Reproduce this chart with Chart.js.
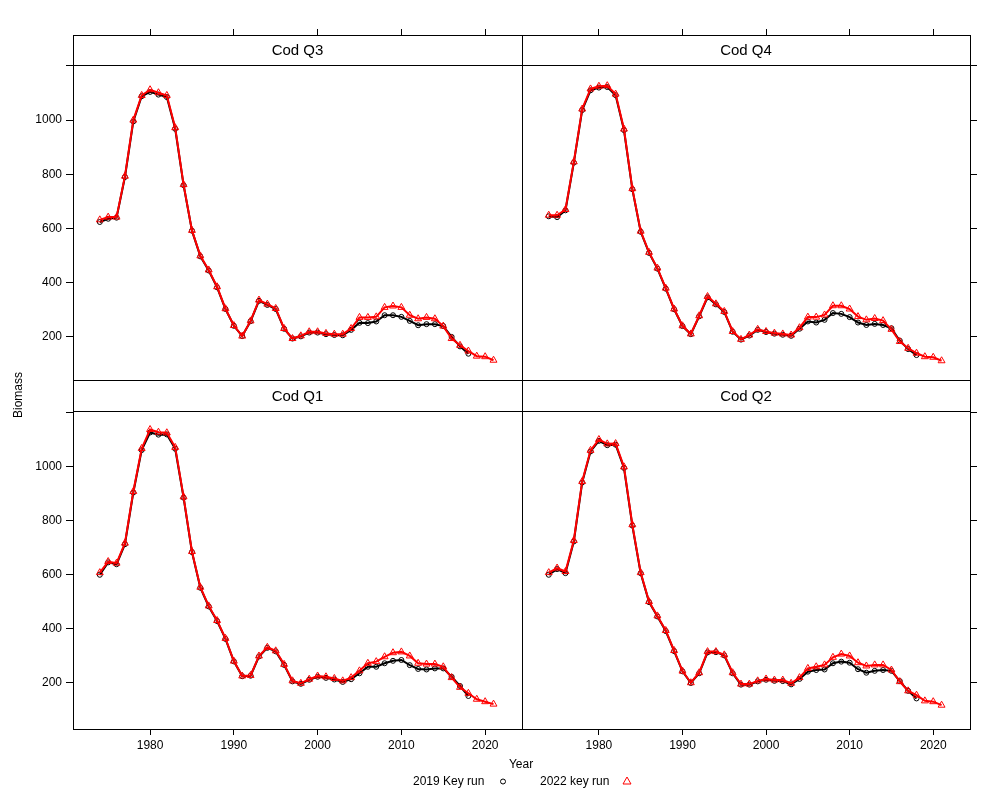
<!DOCTYPE html>
<html>
<head>
<meta charset="utf-8">
<script src="https://cdn.jsdelivr.net/npm/chart.js@4/dist/chart.umd.min.js"></script>
<style>
  body { margin: 0; background: #fff; }
  #wrap { position: relative; width: 1000px; height: 800px; }
  #wrap canvas { position: absolute; left: 0; top: 0; }
</style>
</head>
<body>
<div id="wrap">
  <canvas id="q3" width="1000" height="800"></canvas>
  <canvas id="q4" width="1000" height="800"></canvas>
  <canvas id="q1" width="1000" height="800"></canvas>
  <canvas id="q2" width="1000" height="800"></canvas>
</div>
<script>
// years for each run
const years2022 = [1974, 1975, 1976, 1977, 1978, 1979, 1980, 1981, 1982, 1983,
    1984, 1985, 1986, 1987, 1988, 1989, 1990, 1991, 1992, 1993,
    1994, 1995, 1996, 1997, 1998, 1999, 2000, 2001, 2002, 2003,
    2004, 2005, 2006, 2007, 2008, 2009, 2010, 2011, 2012, 2013,
    2014, 2015, 2016, 2017, 2018, 2019, 2020, 2021];
const years2019 = years2022.slice(0, 45); // 1974 - 2018

// Cod Q3
const q3Run2019 = [624, 636, 640, 790, 995, 1088, 1104, 1094, 1085, 968,
    760, 592, 497, 445, 383, 303, 241, 203, 258, 333,
    318, 303, 230, 194, 202, 216, 216, 210, 207, 206,
    226, 252, 251, 257, 280, 280, 274, 259, 243, 247,
    247, 240, 200, 165, 138];
const q3Run2022 = [632, 642, 642, 793, 1000, 1091, 1112, 1101, 1091, 972,
    762, 593, 499, 447, 385, 304, 242, 203, 259, 336,
    321, 305, 231, 194, 204, 219, 219, 213, 210, 210,
    231, 272, 272, 274, 309, 314, 309, 280, 267, 272,
    267, 240, 194, 169, 148, 129, 127, 114];

// Cod Q4
const q4Run2019 = [645, 642, 667, 843, 1037, 1110, 1120, 1122, 1092, 963,
    745, 588, 510, 452, 378, 302, 240, 210, 276, 346,
    320, 292, 219, 190, 205, 226, 218, 212, 208, 204,
    230, 257, 253, 263, 288, 285, 273, 253, 244, 248,
    244, 232, 186, 155, 133];
const q4Run2022 = [649, 649, 670, 846, 1041, 1115, 1125, 1127, 1096, 967,
    747, 590, 512, 454, 380, 303, 241, 211, 278, 349,
    322, 294, 220, 191, 207, 228, 220, 214, 211, 207,
    234, 273, 273, 281, 315, 315, 303, 275, 263, 268,
    260, 228, 183, 158, 140, 127, 125, 112];

// Cod Q1
const q1Run2019 = [599, 645, 638, 712, 903, 1060, 1125, 1117, 1118, 1065,
    884, 683, 551, 482, 428, 362, 279, 224, 226, 297,
    329, 316, 266, 205, 196, 211, 222, 218, 212, 203,
    213, 235, 259, 259, 272, 281, 284, 265, 251, 249,
    253, 253, 222, 188, 151];
const q1Run2022 = [607, 648, 642, 716, 907, 1066, 1136, 1126, 1124, 1070,
    887, 685, 553, 484, 430, 364, 280, 225, 227, 299,
    331, 318, 268, 207, 198, 213, 225, 222, 216, 207,
    219, 244, 272, 278, 296, 311, 314, 299, 272, 269,
    269, 259, 219, 183, 161, 139, 130, 121];

// Cod Q2
const q2Run2019 = [599, 620, 605, 722, 940, 1055, 1094, 1078, 1080, 994,
    781, 605, 498, 445, 391, 317, 242, 199, 235, 312,
    313, 301, 235, 193, 193, 205, 211, 207, 206, 194,
    214, 241, 247, 249, 272, 278, 274, 250, 237, 244,
    247, 244, 206, 170, 142];
const q2Run2022 = [607, 624, 611, 726, 944, 1059, 1099, 1083, 1084, 998,
    784, 607, 500, 447, 393, 319, 243, 200, 237, 315,
    315, 303, 237, 195, 195, 207, 214, 210, 210, 198,
    219, 253, 259, 266, 294, 306, 299, 274, 262, 266,
    266, 247, 204, 170, 154, 133, 130, 117];

const runLabels = ['2019 Key run', '2022 key run'];
const xTicks = [1980, 1990, 2000, 2010, 2020];
const yTicks = [200, 400, 600, 800, 1000];

const FONT = '"Liberation Sans", Arial, sans-serif';

function toPoints(xs, ys) {
    return ys.map((y, i) => ({ x: xs[i], y: y }));
}

// white strip with the panel name, drawn inside the top of the plot area
const stripPlugin = {
    id: 'strip',
    beforeDatasetsDraw(chart, args, opts) {
        const a = chart.chartArea;
        const ctx = chart.ctx;
        ctx.save();
        ctx.fillStyle = '#fff';
        ctx.fillRect(a.left, a.top, a.right - a.left, opts.height);
        ctx.strokeStyle = '#000';
        ctx.lineWidth = 1;
        ctx.beginPath();
        ctx.moveTo(a.left, a.top + opts.height + 0.5);
        ctx.lineTo(a.right, a.top + opts.height + 0.5);
        ctx.stroke();
        ctx.fillStyle = '#000';
        ctx.font = '15px ' + FONT;
        ctx.textAlign = 'center';
        ctx.textBaseline = 'middle';
        ctx.fillText(opts.text, (a.left + a.right) / 2, a.top + opts.height / 2 + 1);
        ctx.restore();
    },
    afterDraw(chart) {
        const a = chart.chartArea;
        const ctx = chart.ctx;
        ctx.save();
        ctx.strokeStyle = '#000';
        ctx.lineWidth = 1;
        ctx.strokeRect(a.left + 0.5, a.top + 0.5, a.right - a.left, a.bottom - a.top);
        ctx.restore();
    }
};

// axis titles and key, drawn once on the last panel's canvas
const titlesPlugin = {
    id: 'titles',
    afterDraw(chart) {
        const ctx = chart.ctx;
        ctx.save();
        ctx.fillStyle = '#000';
        ctx.font = '12px ' + FONT;
        ctx.textBaseline = 'middle';
        ctx.textAlign = 'center';
        ctx.fillText('Year', 521, 765);
        ctx.save();
        ctx.translate(19, 395);
        ctx.rotate(-Math.PI / 2);
        ctx.fillText('Biomass', 0, 0);
        ctx.restore();

        ctx.textAlign = 'left';
        ctx.fillText(runLabels[0], 413, 782);
        ctx.fillText(runLabels[1], 540, 782);
        ctx.lineWidth = 1;
        ctx.strokeStyle = '#000';
        ctx.beginPath();
        ctx.arc(503, 781.5, 2.5, 0, Math.PI * 2);
        ctx.stroke();
        ctx.strokeStyle = '#ff0000';
        ctx.beginPath();
        ctx.moveTo(627, 777);
        ctx.lineTo(631, 784);
        ctx.lineTo(623, 784);
        ctx.closePath();
        ctx.stroke();
        ctx.restore();
    }
};

function makePanel(id, title, run2019, run2022, pos) {
    const isLeft = pos.col === 0;
    const isTop = pos.row === 0;
    const yMin = isTop ? 41 : 29;
    const yMax = isTop ? 1314 : 1319;
    const plugins = [stripPlugin];
    if (id === 'q2') plugins.push(titlesPlugin);

    new Chart(document.getElementById(id), {
        type: 'line',
        data: {
            datasets: [
                {
                    label: runLabels[1],
                    data: toPoints(years2022, run2022),
                    borderColor: '#ff0000',
                    borderWidth: 2,
                    pointStyle: 'triangle',
                    pointRadius: 4,
                    pointBorderWidth: 1,
                    pointBorderColor: '#ff0000',
                    pointBackgroundColor: 'rgba(0,0,0,0)',
                    tension: 0,
                    order: 0
                },
                {
                    label: runLabels[0],
                    data: toPoints(years2019, run2019),
                    borderColor: '#000000',
                    borderWidth: 2,
                    pointStyle: 'circle',
                    pointRadius: 2.5,
                    pointBorderWidth: 1,
                    pointBorderColor: '#000000',
                    pointBackgroundColor: 'rgba(0,0,0,0)',
                    tension: 0,
                    order: 1
                }
            ]
        },
        options: {
            responsive: false,
            animation: false,
            events: [],
            layout: {
                padding: {
                    left: isLeft ? 0 : 522,
                    right: isLeft ? 478 : 23,
                    top: isTop ? 29 : 380,
                    bottom: isTop ? 420 : 41
                }
            },
            plugins: {
                legend: { display: false },
                tooltip: { enabled: false },
                strip: { text: title, height: isTop ? 30 : 31 }
            },
            scales: {
                x: {
                    type: 'linear',
                    position: isTop ? 'top' : 'bottom',
                    min: 1970.8,
                    max: 2024.4,
                    afterBuildTicks: (scale) => { scale.ticks = xTicks.map(v => ({ value: v })); },
                    afterFit: (scale) => { scale.height = isTop ? 6 : 30; },
                    grid: { drawOnChartArea: false, drawTicks: true, tickLength: 6, color: '#000' },
                    border: { display: true, color: '#000' },
                    ticks: {
                        display: !isTop,
                        padding: 3,
                        color: '#000',
                        font: { family: FONT, size: 12 },
                        autoSkip: false,
                        maxRotation: 0,
                        callback: (v) => String(v)
                    }
                },
                y: {
                    type: 'linear',
                    position: isLeft ? 'left' : 'right',
                    min: yMin,
                    max: yMax,
                    afterBuildTicks: (scale) => {
                        scale.ticks = yTicks.concat([1200]).map(v => ({ value: v }));
                    },
                    afterFit: (scale) => { scale.width = isLeft ? 73 : 7; },
                    grid: { drawOnChartArea: false, drawTicks: true, tickLength: 7, color: '#000' },
                    border: { display: true, color: '#000' },
                    ticks: {
                        display: isLeft,
                        padding: 4,
                        color: '#000',
                        font: { family: FONT, size: 12 },
                        autoSkip: false,
                        callback: (v) => (yTicks.includes(v) ? String(v) : '')
                    }
                }
            }
        },
        plugins: plugins
    });
}

makePanel('q3', 'Cod Q3', q3Run2019, q3Run2022, { row: 0, col: 0 });
makePanel('q4', 'Cod Q4', q4Run2019, q4Run2022, { row: 0, col: 1 });
makePanel('q1', 'Cod Q1', q1Run2019, q1Run2022, { row: 1, col: 0 });
makePanel('q2', 'Cod Q2', q2Run2019, q2Run2022, { row: 1, col: 1 });
</script>
</body>
</html>
